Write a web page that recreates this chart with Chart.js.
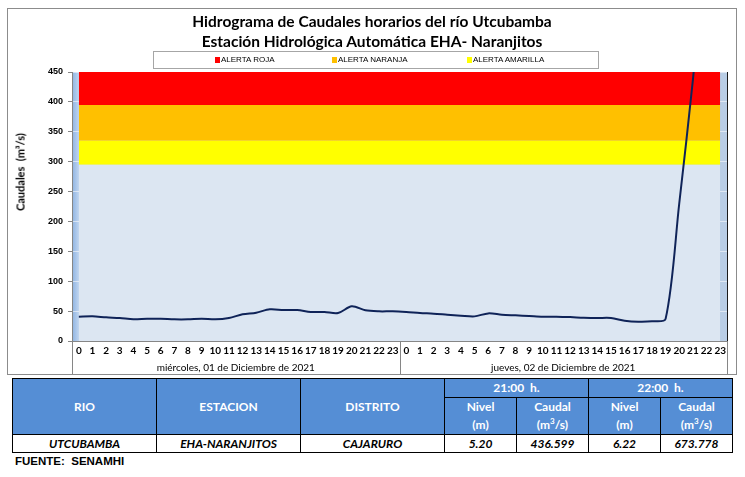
<!DOCTYPE html>
<html>
<head>
<meta charset="utf-8">
<script src="https://cdn.jsdelivr.net/npm/chart.js@4"></script>
<style>
  body { margin: 0; background: #fff; width: 745px; height: 477px; position: relative; overflow: hidden; font-family: Lato, "Liberation Sans", sans-serif; }
  #marco { position: absolute; left: 7px; top: 8px; width: 728px; height: 365px; border: 1px solid #8c8c8c; }
  #titulo { position: absolute; left: 7px; top: 11px; width: 730px; text-align: center; font-weight: bold; font-size: 15.5px; line-height: 20px; color: #000; }
  #leyenda { position: absolute; left: 153px; top: 51px; width: 444px; height: 16px; border: 1px solid #a6a6a6; font-family: "Liberation Sans", sans-serif; font-size: 8px; color: #000; }
  #leyenda span { position: absolute; top: 3px; line-height: 10px; }
  #leyenda i { display: inline-block; width: 5px; height: 6px; margin-right: 1px; vertical-align: -1px; }
  #ytitulo { position: absolute; left: 20px; top: 172px; transform: translate(-50%, -50%) rotate(-90deg); white-space: nowrap; font-weight: bold; font-size: 11px; }
  #lienzo { position: absolute; left: 0; top: 0; }
  table { position: absolute; left: 12px; top: 378px; border-collapse: collapse; font-size: 12px; table-layout: fixed; }
  td, th { border: 1px solid #000; text-align: center; padding: 0; }
  th { background: #558ed5; color: #fff; font-weight: bold; line-height: 18px; }
  td { font-weight: bold; font-style: italic; height: 17px; line-height: 17px; }
  #fuente { position: absolute; left: 15px; top: 455px; font-family: "Liberation Sans", sans-serif; font-weight: bold; font-size: 11.5px; }
</style>
</head>
<body>
<div id="marco"></div>
<canvas id="lienzo" width="745" height="376"></canvas>
<div id="titulo">Hidrograma de Caudales horarios del río Utcubamba<br>Estación Hidrológica Automática EHA- Naranjitos</div>
<div id="leyenda">
  <span style="left:61px"><i style="background:#ff0000"></i>ALERTA ROJA</span>
  <span style="left:178px"><i style="background:#ffc000"></i>ALERTA NARANJA</span>
  <span style="left:313px"><i style="background:#ffff00"></i>ALERTA AMARILLA</span>
</div>
<div id="ytitulo">Caudales&nbsp; (m³/s)</div>
<table>
  <colgroup><col style="width:144px"><col style="width:144px"><col style="width:144px"><col style="width:72px"><col style="width:72px"><col style="width:72px"><col style="width:72px"></colgroup>
  <tr><th rowspan="2">RIO</th><th rowspan="2">ESTACION</th><th rowspan="2">DISTRITO</th><th colspan="2">21:00&nbsp; h.</th><th colspan="2">22:00&nbsp; h.</th></tr>
  <tr><th>Nivel<br>(m)</th><th>Caudal<br>(m<sup style="font-size:8px;line-height:0">3</sup>/s)</th><th>Nivel<br>(m)</th><th>Caudal<br>(m<sup style="font-size:8px;line-height:0">3</sup>/s)</th></tr>
  <tr><td>UTCUBAMBA</td><td>EHA-NARANJITOS</td><td>CAJARURO</td><td>5.20</td><td>436.599</td><td>6.22</td><td>673.778</td></tr>
</table>
<div id="fuente">FUENTE:&nbsp; SENAMHI</div>
<script>
const horas = ['0','1','2','3','4','5','6','7','8','9','10','11','12','13','14','15','16','17','18','19','20','21','22','23'];
const dias = ['miércoles, 01 de Diciembre de 2021', 'jueves, 02 de Diciembre de 2021'];
const caudalDia1 = [40.6, 41.3, 39.6, 38.5, 36.5, 37.3, 37.3, 36.2, 36.2, 37.3, 36.2, 38.5, 44.6, 47.4, 53, 51.8, 51.8, 48.5, 48.5, 46.8, 58, 51.3, 49.6, 49.6];
const caudalDia2 = [48.5, 46.8, 45.7, 44, 42.4, 41.2, 46.2, 44, 42.9, 41.8, 40.6, 40.6, 40, 39, 38.5, 38.5, 34, 32.3, 33, 37, 230, 436.599, 673.778, null];
const umbrales = [295, 335, 395, 450];          // techo de cada franja
const coloresFranja = ['#dce6f2', '#ffff00', '#ffc000', '#ff0000'];
const yTicks = [0, 50, 100, 150, 200, 250, 300, 350, 400, 450];

const etiquetas = horas.concat(horas);
const caudal = caudalDia1.concat(caudalDia2);

const franjas = umbrales.map((u, i) => ({
    label: 'franja' + i,
    data: etiquetas.map(() => u),
    backgroundColor: coloresFranja[i],
    borderWidth: 0,
    pointRadius: 0,
    fill: i === 0 ? 'origin' : '-1',
    order: 10 + i
}));

// fondo del area de trazado y separadores de dias
const decoracion = {
    id: 'decoracion',
    beforeDraw(chart) {
        const { ctx, chartArea: a } = chart;
        const g = ctx.createLinearGradient(a.left, 0, a.right, 0);
        g.addColorStop(0, '#8db3e2');
        g.addColorStop(0.012, '#c6d9f1');
        g.addColorStop(1, '#b9cde5');
        ctx.save();
        ctx.fillStyle = g;
        ctx.fillRect(a.left, a.top, a.right - a.left, a.bottom - a.top);
        ctx.restore();
    },
    afterDraw(chart) {
        const { ctx, chartArea: a, scales: { x } } = chart;
        const medio = (x.getPixelForValue(23) + x.getPixelForValue(24)) / 2;
        ctx.save();
        ctx.strokeStyle = '#868686';
        ctx.lineWidth = 1;
        [a.left, medio, a.right].forEach(px => {
            ctx.beginPath();
            ctx.moveTo(Math.round(px) + 0.5, a.bottom);
            ctx.lineTo(Math.round(px) + 0.5, 374);
            ctx.stroke();
        });
        ctx.strokeStyle = '#1a1a1a';
        ctx.beginPath();
        ctx.moveTo(Math.round(a.right) + 0.5, a.top);
        ctx.lineTo(Math.round(a.right) + 0.5, a.bottom);
        ctx.stroke();
        ctx.fillStyle = '#000';
        ctx.font = '10px Lato';
        ctx.textAlign = 'center';
        ctx.textBaseline = 'middle';
        ctx.fillText(dias[0], (a.left + medio) / 2, 368);
        ctx.fillText(dias[1], (medio + a.right) / 2, 368);
        ctx.restore();
    }
};

new Chart(document.getElementById('lienzo'), {
    type: 'line',
    data: {
        labels: etiquetas,
        datasets: [
            {
                label: 'Caudal',
                data: caudal,
                borderColor: '#0f2358',
                borderWidth: 2,
                pointRadius: 0,
                tension: 0.3,
                fill: false,
                order: 0
            },
            ...franjas
        ]
    },
    plugins: [decoracion],
    options: {
        responsive: false,
        animation: false,
        layout: { padding: { left: 0, right: 18, top: 72, bottom: 0 } },
        plugins: {
            legend: { display: false },
            tooltip: { enabled: false }
        },
        scales: {
            x: {
                offset: true,
                grid: { display: false, drawTicks: false, tickLength: 0 },
                border: { display: true, color: '#868686' },
                ticks: {
                    autoSkip: false,
                    maxRotation: 0,
                    padding: 4,
                    color: '#000',
                    font: { family: 'Lato', weight: 'bold', size: 10 }
                },
                afterFit(scale) { scale.height = 35; }
            },
            y: {
                min: 0,
                max: 450,
                afterBuildTicks(scale) { scale.ticks = yTicks.map(v => ({ value: v })); },
                grid: { color: 'rgba(255,255,255,0.55)', tickColor: '#868686', tickLength: 4 },
                border: { display: true, color: '#868686' },
                ticks: {
                    padding: 5,
                    color: '#000',
                    font: { family: 'Liberation Sans', weight: 'bold', size: 9 }
                },
                afterFit(scale) { scale.width = 72; }
            }
        }
    }
});
</script>
</body>
</html>
